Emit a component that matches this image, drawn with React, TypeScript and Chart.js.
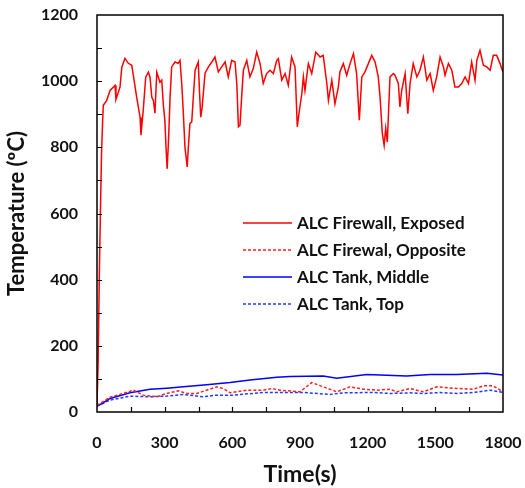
import React, { useEffect, useRef } from "react";
import { Chart, registerables } from "chart.js";
Chart.register(...registerables);

// ---- data (time in s, temperature in °C) ----
const seriesNames = [
  "ALC Firewall, Exposed",
  "ALC Firewal, Opposite",
  "ALC Tank, Middle",
  "ALC Tank, Top",
];

const exposedTime = [
  0, 5, 10, 15, 20, 25, 28, 43, 58, 80, 84, 102, 110, 124, 139, 154, 161, 176, 191, 195,
  205, 216, 228, 235, 243, 250, 257, 265, 279, 287, 294, 301, 306, 311, 317, 324, 331, 346,
  360, 368, 376, 383, 390, 395, 400, 405, 412, 420, 427, 435, 449, 455, 460, 466, 479, 494,
  509, 523, 538, 553, 568, 582, 597, 612, 620, 627, 634, 642, 649, 664, 678, 693, 708, 723,
  737, 752, 767, 782, 797, 804, 819, 834, 848, 863, 878, 888, 895, 908, 915, 922, 937, 952,
  970, 989, 1003, 1019, 1026, 1041, 1055, 1070, 1077, 1092, 1107, 1122, 1137, 1151, 1163,
  1174, 1188, 1203, 1218, 1233, 1247, 1255, 1265, 1273, 1280, 1287, 1299, 1314, 1321, 1336,
  1343, 1351, 1366, 1378, 1388, 1402, 1418, 1432, 1447, 1462, 1477, 1491, 1506, 1521, 1536,
  1543, 1558, 1573, 1587, 1602, 1617, 1632, 1647, 1661, 1676, 1684, 1698, 1713, 1728, 1743,
  1757, 1772, 1787, 1800,
];
const exposedTemp = [
  20, 150, 400, 600, 780, 880, 927, 942, 972, 987, 945, 982, 1042, 1069, 1054, 1048, 1018, 951, 891, 837,
  912, 1012, 1027, 1012, 951, 942, 903, 1027, 997, 1003, 930, 880, 800, 735, 820, 952, 1043, 1058,
  1054, 1063, 990, 900, 800, 770, 741, 800, 872, 877, 952, 1033, 1058, 960, 891, 920, 1024, 1043,
  1058, 1073, 1028, 1043, 1058, 1013, 1063, 1058, 990, 862, 867, 960, 1033, 1063, 1013, 1038, 1088, 1053,
  993, 1023, 1033, 1023, 1063, 1068, 1003, 1023, 988, 1073, 1043, 862, 900, 962, 1013, 972, 1053, 1023,
  1088, 1073, 1078, 993, 942, 1003, 932, 982, 1028, 1053, 1018, 1053, 1083, 1023, 882,
  1013, 1028, 1053, 1078, 1058, 1013, 952, 842, 806, 857, 816, 1013, 1023, 1018, 993,
  922, 972, 1023, 902, 993, 1053, 1013, 1033, 1073, 1003, 1023, 972, 1013, 1073, 1043,
  1018, 1053, 1033, 982, 982, 993, 1013, 993, 1058, 1003, 1063, 1093, 1048, 1043, 1033,
  1078, 1078, 1053, 1028,
];

const oppositeTime = [
  0, 20, 58, 117, 161, 205, 265, 309, 360, 398, 442, 486, 531, 560, 590, 664, 737, 775, 811,
  900, 952, 1003, 1063, 1122, 1181, 1240, 1299, 1329, 1388, 1447, 1506, 1595, 1669, 1713,
  1757, 1787, 1800,
];
const oppositeTemp = [
  20, 28, 45, 56, 66, 51, 46, 56, 64, 56, 56, 66, 76, 71, 58, 66, 66, 71, 66,
  61, 89, 76, 61, 76, 69, 66, 69, 61, 71, 61, 76, 71, 69, 79,
  79, 66, 69,
];

const middleTime = [
  0, 20, 58, 146, 235, 309, 383, 486, 590, 678, 797, 856, 1003, 1063, 1196, 1373, 1477, 1595,
  1728, 1800,
];
const middleTemp = [
  18, 25, 41, 58, 69, 72, 76, 82, 89, 97, 105, 107, 109, 102, 113, 109, 113, 113,
  117, 112,
];

const topTime = [
  0, 20, 58, 146, 235, 309, 383, 471, 531, 604, 737, 856, 915, 1033, 1092, 1225, 1299, 1388,
  1447, 1521, 1595, 1669, 1743, 1800,
];
const topTemp = [
  18, 24, 36, 48, 46, 48, 53, 46, 51, 51, 59, 59, 59, 53, 58, 59, 56, 58,
  56, 59, 56, 59, 66, 59,
];

const xMin = 0;
const xMax = 1800;
const xLabelStep = 300;
const xMinorStep = 150;
const yMin = 0;
const yMax = 1200;
const yLabelStep = 200;
const yMinorStep = 100;

const FONT = "Lato, 'Open Sans', 'DejaVu Sans', sans-serif";

export default function App() {
  const ref = useRef<HTMLCanvasElement | null>(null);

  useEffect(() => {
    document.body.style.margin = "0";
    const canvas = ref.current!;
    const toXY = (t: number[], v: number[]) => t.map((x, i) => ({ x, y: v[i] }));

    const framePlugin = {
      id: "frameTicks",
      afterDatasetsDraw(chart: any) {
        const { ctx, chartArea, scales } = chart;
        const { left, right, top, bottom } = chartArea;
        ctx.save();
        ctx.strokeStyle = "#000";
        ctx.lineWidth = 1.5;
        ctx.strokeRect(left, top, right - left, bottom - top);
        ctx.lineWidth = 1.2;
        ctx.beginPath();
        for (let v = xMin + xMinorStep; v < xMax; v += xMinorStep) {
          const px = Math.round(scales.x.getPixelForValue(v)) + 0.5;
          ctx.moveTo(px, bottom);
          ctx.lineTo(px, bottom - 5);
        }
        for (let v = yMin + yMinorStep; v < yMax; v += yMinorStep) {
          const py = Math.round(scales.y.getPixelForValue(v)) + 0.5;
          ctx.moveTo(left, py);
          ctx.lineTo(left + 5, py);
        }
        ctx.stroke();
        ctx.restore();
      },
    };

    const legendPlugin = {
      id: "innerLegend",
      afterDraw(chart: any) {
        const { ctx, chartArea } = chart;
        const { left, top } = chartArea;
        ctx.save();
        ctx.font = `bold 17px ${FONT}`;
        ctx.textBaseline = "middle";
        ctx.textAlign = "left";
        chart.data.datasets.forEach((ds: any, i: number) => {
          const yy = top + 208 + i * 27;
          ctx.strokeStyle = ds.borderColor;
          ctx.lineWidth = 1.5;
          ctx.setLineDash(ds.borderDash || []);
          ctx.beginPath();
          ctx.moveTo(left + 146, yy);
          ctx.lineTo(left + 195, yy);
          ctx.stroke();
          ctx.setLineDash([]);
          ctx.fillStyle = "#111";
          ctx.fillText(ds.label, left + 200, yy + 1);
        });
        ctx.restore();
      },
    };

    const chart = new Chart(canvas, {
      type: "line",
      data: {
        datasets: [
          {
            label: seriesNames[0],
            data: toXY(exposedTime, exposedTemp),
            borderColor: "#ff0000",
            borderWidth: 1.5,
            pointRadius: 0,
            tension: 0,
          },
          {
            label: seriesNames[1],
            data: toXY(oppositeTime, oppositeTemp),
            borderColor: "#ff2020",
            borderWidth: 1.5,
            borderDash: [3, 2],
            pointRadius: 0,
            tension: 0,
          },
          {
            label: seriesNames[2],
            data: toXY(middleTime, middleTemp),
            borderColor: "#0000ff",
            borderWidth: 1.5,
            pointRadius: 0,
            tension: 0,
          },
          {
            label: seriesNames[3],
            data: toXY(topTime, topTemp),
            borderColor: "#1f3cff",
            borderWidth: 1.5,
            borderDash: [3, 2],
            pointRadius: 0,
            tension: 0,
          },
        ],
      },
      options: {
        responsive: false,
        animation: false,
        devicePixelRatio: 1,
        layout: { padding: { top: 15, right: 22, left: 0, bottom: 0 } },
        plugins: {
          legend: { display: false },
          tooltip: { enabled: false },
        },
        scales: {
          x: {
            type: "linear",
            min: xMin,
            max: xMax,
            afterFit: (s: any) => {
              s.height = 76;
              s.paddingLeft = 0;
              s.paddingRight = 0;
            },
            grid: { display: false, drawTicks: false },
            border: { display: false },
            ticks: {
              stepSize: xLabelStep,
              padding: 21,
              color: "#111",
              font: { family: FONT, size: 16, weight: "bold" },
              maxRotation: 0,
              callback: (v: any) => String(v),
            },
            title: {
              display: true,
              text: "Time(s)",
              color: "#111",
              font: { family: FONT, size: 23, weight: "bold" },
              padding: { top: 0, bottom: 0 },
            },
          },
          y: {
            type: "linear",
            min: yMin,
            max: yMax,
            afterFit: (s: any) => {
              s.width = 97;
              s.paddingTop = 0;
              s.paddingBottom = 0;
            },
            grid: { display: false, drawTicks: false },
            border: { display: false },
            ticks: {
              stepSize: yLabelStep,
              padding: 19,
              color: "#111",
              font: { family: FONT, size: 16, weight: "bold" },
              callback: (v: any) => String(v),
            },
            title: {
              display: true,
              text: "Temperature (ºC)",
              color: "#111",
              font: { family: FONT, size: 22, weight: "bold" },
              padding: { top: 4, bottom: 0 },
            },
          },
        },
      },
      plugins: [framePlugin, legendPlugin],
    });

    return () => chart.destroy();
  }, []);

  return (
    <div style={{ width: 525, height: 488, background: "#fff" }}>
      <canvas ref={ref} width={525} height={488} style={{ display: "block", width: 525, height: 488 }} />
    </div>
  );
}
